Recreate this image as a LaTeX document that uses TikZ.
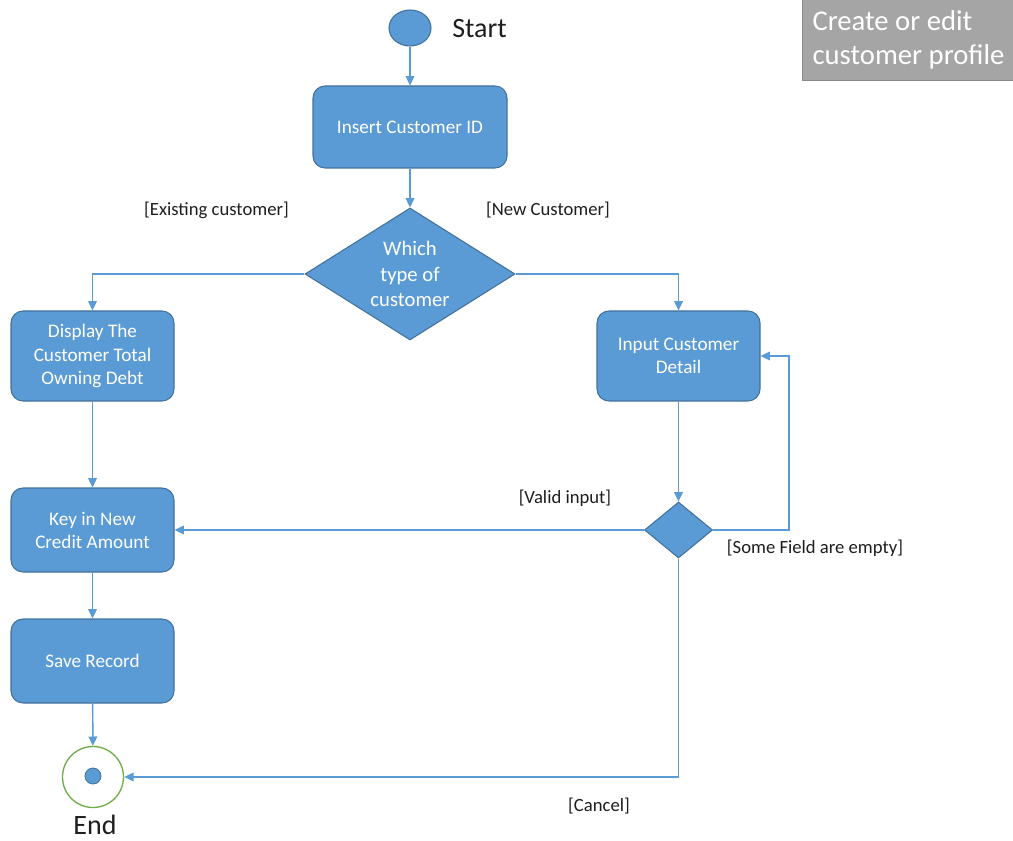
\documentclass[tikz,border=0pt]{standalone}
\usepackage{fontspec}
\setmainfont{Carlito}
\usetikzlibrary{shapes.geometric,arrows.meta}
\definecolor{boxblue}{HTML}{5B9BD5}
\definecolor{boxedge}{HTML}{41719C}
\definecolor{endgreen}{HTML}{70AD47}
\definecolor{titlegray}{HTML}{A5A5A5}
\definecolor{titleedge}{HTML}{8A8A8A}
\definecolor{labelink}{HTML}{1E1E1E}

\begin{document}
\begin{tikzpicture}[x=0.75pt,y=-0.75pt,
  action/.style={draw=boxedge, line width=0.8pt, fill=boxblue, rounded corners=9pt,
    text=white, align=center, minimum width={163*0.75pt}, minimum height={90*0.75pt},
    inner sep=2pt, font=\fontsize{14.4}{17.3}\selectfont},
  bigchoice/.style={diamond, aspect=1.6, draw=boxedge, line width=0.8pt, fill=boxblue, text=white,
    align=center, inner sep=0pt, minimum width={210*0.75pt}, minimum height={132*0.75pt},
    font=\fontsize{15.5}{19}\selectfont},
  smallchoice/.style={diamond, draw=boxedge, line width=0.8pt, fill=boxblue,
    inner sep=0pt, minimum width={68*0.75pt}, minimum height={56*0.75pt}},
  startdot/.style={ellipse, draw=boxedge, line width=0.8pt, fill=boxblue,
    minimum width={42*0.75pt}, minimum height={36*0.75pt}, inner sep=0pt},
  endring/.style={circle, draw=endgreen, line width=1pt, fill=white,
    minimum size={61*0.75pt}, inner sep=0pt},
  enddot/.style={circle, draw=boxedge, line width=0.6pt, fill=boxblue,
    minimum size={16*0.75pt}, inner sep=0pt},
  termlabel/.style={text=labelink, font=\fontsize{21}{25}\selectfont, inner sep=0pt},
  guard/.style={text=labelink, font=\fontsize{14}{17}\selectfont, inner sep=0pt},
  titlebox/.style={draw=titleedge, line width=0.8pt, fill=titlegray, text=white,
    align=flush left, text width={210*0.75pt}, inner xsep={10*0.75pt}, inner ysep=0pt,
    minimum height={82*0.75pt}, font=\fontsize{21.5}{25.5}\selectfont},
  flow/.style={draw=boxblue, line width=1.1pt, -{Triangle[length=7pt,width=6.5pt]}}
]
\useasboundingbox (0,0) rectangle (1013,841);

% title tag
\node[titlebox, anchor=north west] (title) at (802,-2) {Create or edit\\customer profile};

% initial and final states
\node[startdot] (start) at (410,28) {};
\node[termlabel, anchor=west] (startlbl) at (452,29) {Start};
\node[endring] (end) at (93,777) {};
\node[enddot] (enddot) at (93,776) {};
\node[termlabel] (endlbl) at (95,825) {End};

% activities
\node[action, minimum width={194*0.75pt}, minimum height={82*0.75pt}] (insert) at (410,127) {Insert Customer ID};
\node[bigchoice] (which) at (410,274) {Which\\type of\\customer};
\node[action] (display) at (92.5,356) {Display The\\Customer Total\\Owning Debt};
\node[action] (input) at (678.5,356) {Input Customer\\Detail};
\node[action, minimum height={84*0.75pt}] (key) at (92.5,530) {Key in New\\Credit Amount};
\node[action, minimum height={84*0.75pt}] (save) at (92.5,661) {Save Record};
\node[smallchoice] (check) at (678.5,530) {};
\coordinate (loop) at (789,530);

% guards
\node[guard] (gexist) at (216.5,210) {[Existing customer]};
\node[guard] (gnew) at (548,210) {[New Customer]};
\node[guard] (gvalid) at (565,498) {[Valid input]};
\node[guard] (gempty) at (815,548) {[Some Field are empty]};
\node[guard] (gcancel) at (599,806) {[Cancel]};

% control flow
\draw[flow] (start) -- (insert);
\draw[flow] (insert) -- (which);
\draw[flow] (which.west) -| (display.north);
\draw[flow] (which.east) -| (input.north);
\draw[flow] (display) -- (key);
\draw[flow] (input) -- (check);
\draw[flow] (check.west) -- (key.east);
\draw[flow] (check.east) -- (loop) |- (input.east);
\draw[flow] (check.south) |- (end.east);
\draw[flow] (key) -- (save);
\draw[flow] (save) -- (end);
\end{tikzpicture}
\end{document}
